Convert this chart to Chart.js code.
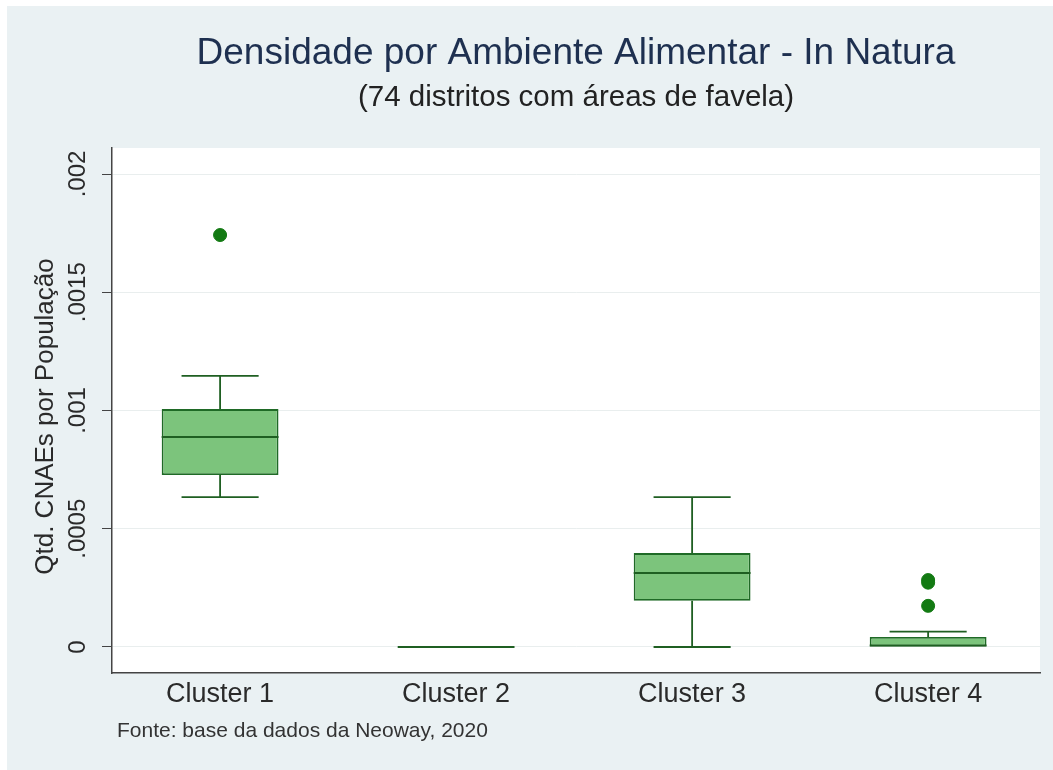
<!DOCTYPE html>
<html>
<head>
<meta charset="utf-8">
<script src="https://cdn.jsdelivr.net/npm/chart.js@4.4.0/dist/chart.umd.min.js"></script>
<style>
  html, body { margin: 0; padding: 0; background: #fff; }
  #wrap { position: absolute; left: 7px; top: 6px; width: 1046px; height: 764px; background: #eaf1f3; }
</style>
</head>
<body>
<div id="wrap"><canvas id="c"></canvas></div>
<script>
// box plot values
const clusters = ['Cluster 1', 'Cluster 2', 'Cluster 3', 'Cluster 4'];
const lowerWhisker = [0.000634, 0, 0, 0];
const q1 = [0.000727, 0, 0.000195, 0];
const median = [0.000888, 0, 0.000313, 0.000006];
const q3 = [0.001006, 0, 0.000397, 0.000042];
const upperWhisker = [0.001146, 0, 0.000634, 0.000065];
// outliers: cluster index, value
const outlierCluster = [0, 3, 3, 3];
const outlierValue = [0.001742, 0.000283, 0.000272, 0.000174];
const yTicks = [0, 0.0005, 0.001, 0.0015, 0.002];
const yTickLabels = ['0', '.0005', '.001', '.0015', '.002'];

const lineGreen = '#1f5f22';
const FONT = '"Liberation Sans", Arial, sans-serif';

// white plot region, whiskers, medians, titles, rotated y labels, note
const boxExtras = {
  id: 'boxExtras',
  beforeDraw(chart) {
    const a = chart.chartArea, ctx = chart.ctx;
    ctx.save();
    ctx.fillStyle = '#ffffff';
    ctx.fillRect(a.left, a.top, a.right - a.left, a.bottom - a.top);
    ctx.restore();
  },
  afterDatasetsDraw(chart) {
    const ctx = chart.ctx;
    const x = chart.scales.x, y = chart.scales.y;
    const meta = chart.getDatasetMeta(0);
    ctx.save();
    ctx.strokeStyle = lineGreen;
    clusters.forEach((c, i) => {
      const bar = meta.data[i];
      const cx = x.getPixelForValue(i);
      const half = bar.width / 2;
      const cap = half * 0.66;
      const yl = y.getPixelForValue(lowerWhisker[i]);
      const yq1 = y.getPixelForValue(q1[i]);
      const yq3 = y.getPixelForValue(q3[i]);
      const yu = y.getPixelForValue(upperWhisker[i]);
      const ym = y.getPixelForValue(median[i]);
      ctx.lineWidth = 1.8;
      ctx.beginPath();
      if (upperWhisker[i] > q3[i]) {
        ctx.moveTo(cx, yq3); ctx.lineTo(cx, yu);
        ctx.moveTo(cx - cap, yu); ctx.lineTo(cx + cap, yu);
      }
      if (lowerWhisker[i] < q1[i]) {
        ctx.moveTo(cx, yq1); ctx.lineTo(cx, yl);
        ctx.moveTo(cx - cap, yl); ctx.lineTo(cx + cap, yl);
      }
      ctx.stroke();
      ctx.lineWidth = 2;
      ctx.beginPath();
      ctx.moveTo(cx - half, ym); ctx.lineTo(cx + half, ym);
      ctx.stroke();
    });
    ctx.restore();
  },
  afterDraw(chart) {
    const ctx = chart.ctx, a = chart.chartArea, y = chart.scales.y;
    const mid = (a.left + a.right) / 2;
    ctx.save();
    ctx.textAlign = 'center';
    ctx.textBaseline = 'middle';
    ctx.fillStyle = '#1e3050';
    ctx.font = '37px ' + FONT;
    ctx.fillText('Densidade por Ambiente Alimentar - In Natura', mid, 48);
    ctx.fillStyle = '#222';
    ctx.font = '29.5px ' + FONT;
    ctx.fillText('(74 distritos com áreas de favela)', mid, 92);

    ctx.fillStyle = '#2a2a2a';
    ctx.font = '24px ' + FONT;
    yTicks.forEach((v, i) => {
      const py = y.getPixelForValue(v);
      ctx.save();
      ctx.translate(71, py);
      ctx.rotate(-Math.PI / 2);
      ctx.fillText(yTickLabels[i], 0, 0);
      ctx.restore();
    });
    ctx.font = '26px ' + FONT;
    ctx.save();
    ctx.translate(39, (a.top + a.bottom) / 2 + 6);
    ctx.rotate(-Math.PI / 2);
    ctx.fillText('Qtd. CNAEs por População', 0, 0);
    ctx.restore();

    ctx.textAlign = 'left';
    ctx.font = '21px ' + FONT;
    ctx.fillStyle = '#333';
    ctx.fillText('Fonte: base da dados da Neoway, 2020', 110, 725);
    ctx.restore();
  }
};

new Chart(document.getElementById('c'), {
  data: {
    datasets: [
      {
        type: 'bar',
        data: clusters.map((c, i) => ({ x: i, y: [q1[i], q3[i]] })),
        backgroundColor: '#7cc47c',
        borderColor: '#1f6a26',
        borderWidth: 1.8,
        borderSkipped: false,
        categoryPercentage: 1,
        barPercentage: 0.495,
        order: 2
      },
      {
        type: 'scatter',
        data: outlierValue.map((v, i) => ({ x: outlierCluster[i], y: v })),
        backgroundColor: '#137a13',
        borderColor: '#137a13',
        pointRadius: 6.5,
        order: 1
      }
    ]
  },
  options: {
    responsive: true,
    maintainAspectRatio: false,
    animation: false,
    layout: { padding: { left: 0, right: 13, top: 142, bottom: 0 } },
    plugins: {
      legend: { display: false },
      tooltip: { enabled: false },
      title: { display: false }
    },
    scales: {
      x: {
        type: 'linear',
        min: -0.458,
        max: 3.474,
        offset: false,
        afterBuildTicks(s) { s.ticks = clusters.map((c, i) => ({ value: i })); },
        grid: { display: false, drawTicks: false },
        border: { display: true, color: '#444', width: 1.5 },
        ticks: {
          color: '#2a2a2a',
          padding: 5,
          font: { family: FONT, size: 27 },
          callback: (v) => clusters[v]
        },
        afterFit(s) { s.height = 97; }
      },
      y: {
        min: -0.00011,
        max: 0.00211,
        afterBuildTicks(s) { s.ticks = yTicks.map(v => ({ value: v })); },
        grid: { color: '#e9eeee', lineWidth: 1, tickColor: '#444', tickLength: 10, drawTicks: true },
        border: { display: true, color: '#444', width: 1.5 },
        ticks: { display: false },
        afterFit(s) { s.width = 105; }
      }
    }
  },
  plugins: [boxExtras]
});
</script>
</body>
</html>
